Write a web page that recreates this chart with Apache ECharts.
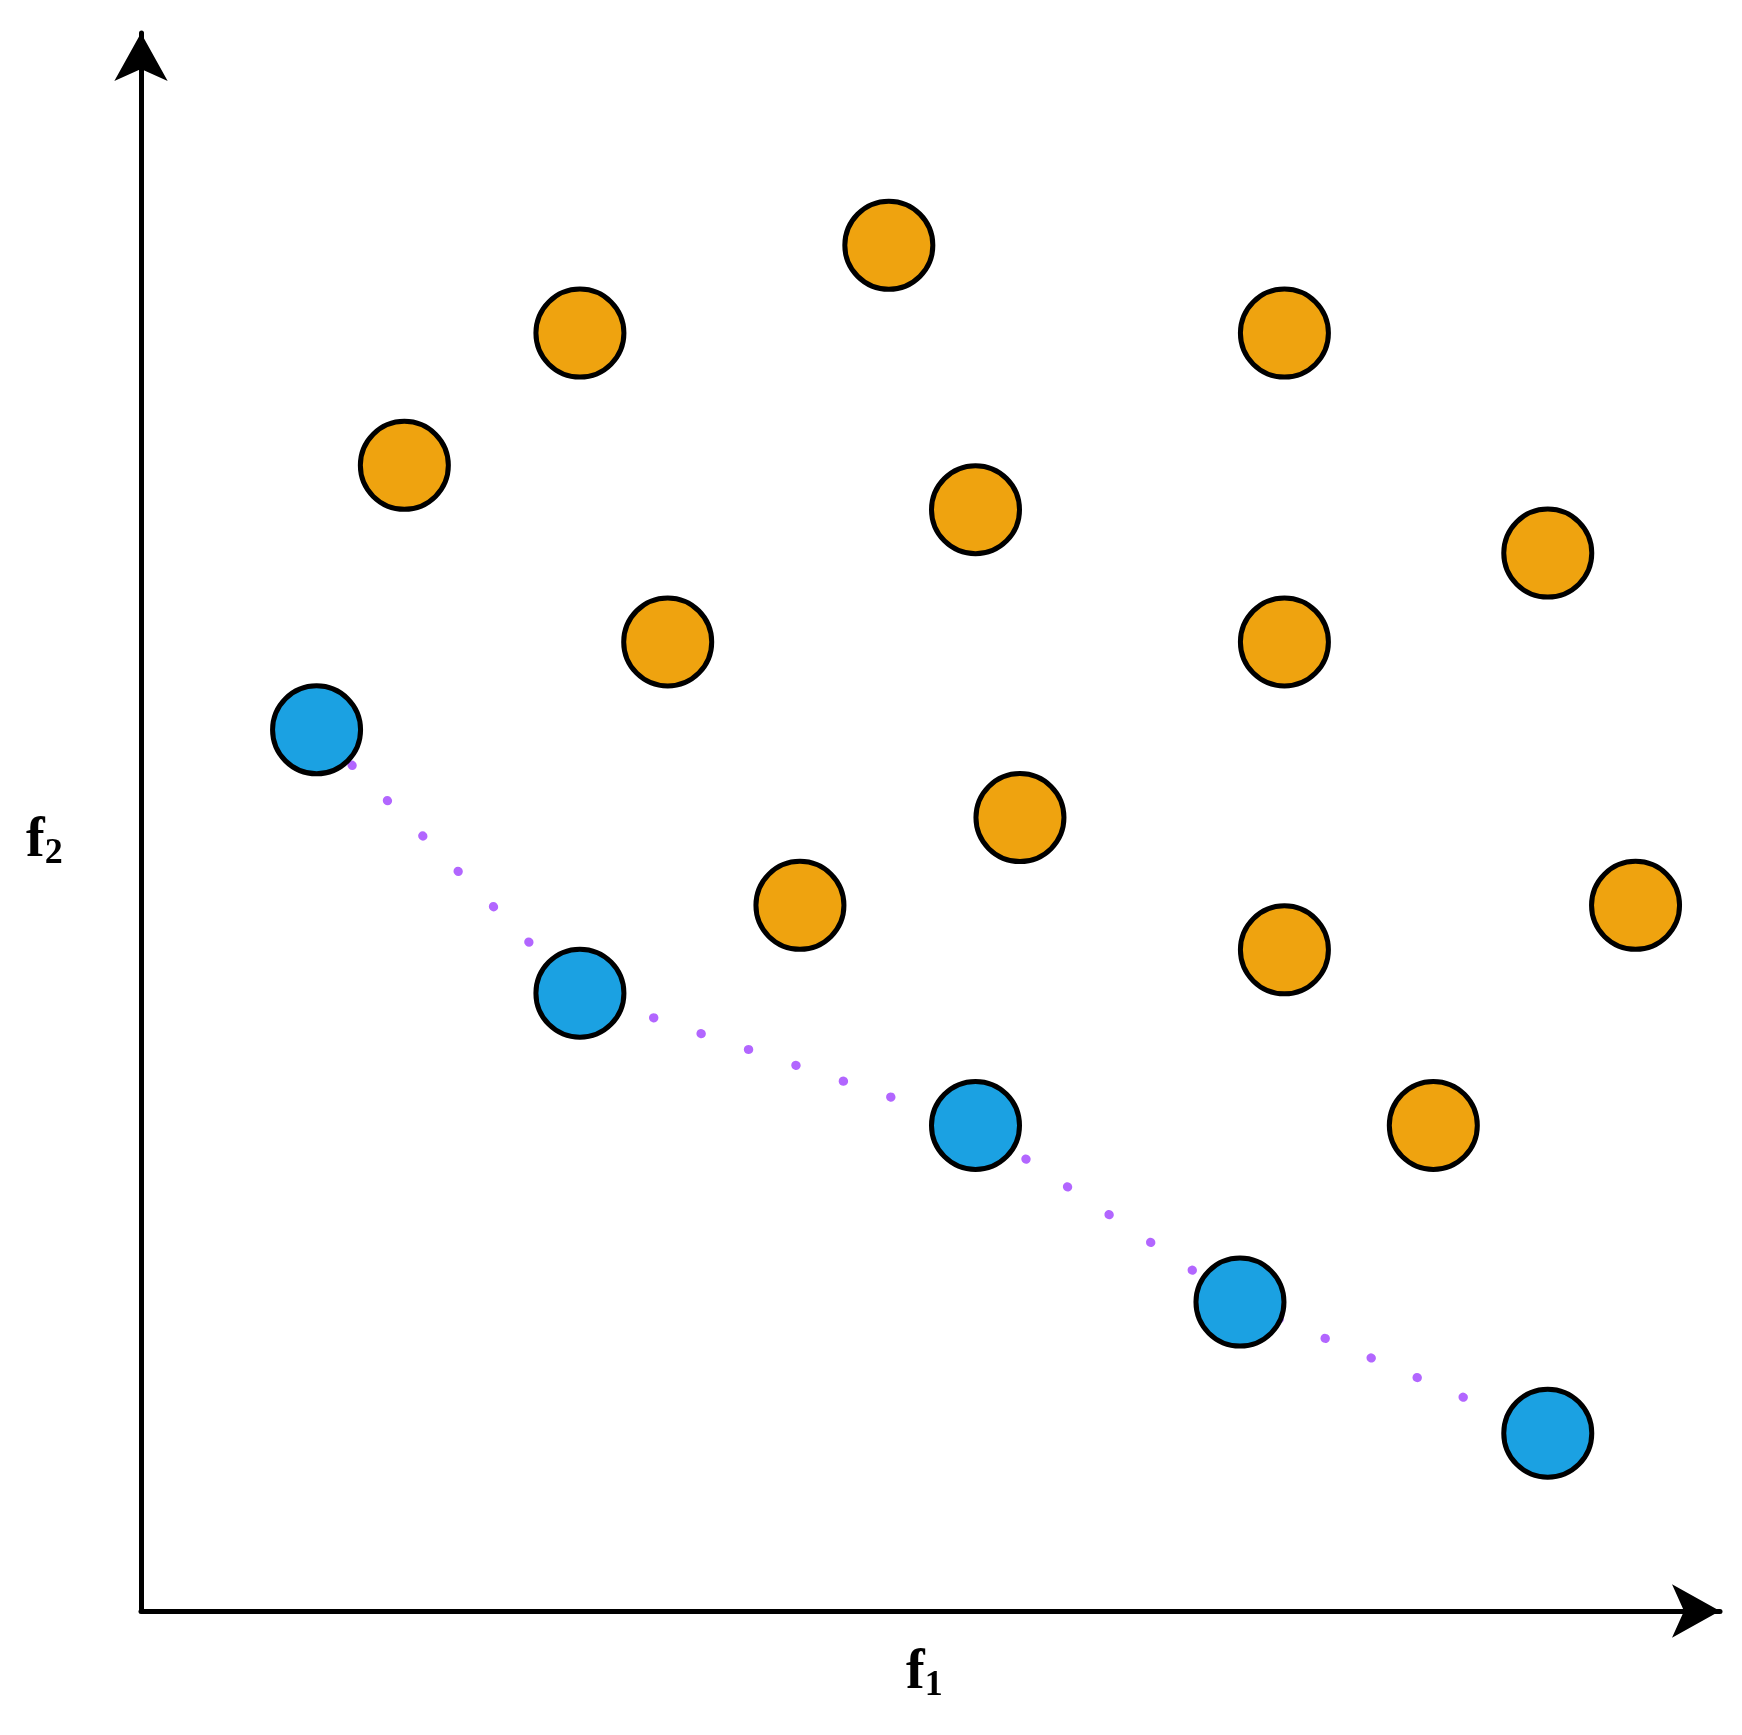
<!DOCTYPE html>
<html><head><meta charset="utf-8">
<script src="https://cdn.jsdelivr.net/npm/echarts@6/dist/echarts.min.js"></script>
<style>html,body{margin:0;padding:0;background:#fff}#c{width:1742px;height:1735px}</style>
</head><body><div id="c"></div>
<script>
const dominated = [[673,1229],[395,1150],[1029,1150],[237,1031],[751,991],[1266,952],[474,872],[1029,872],[791,714],[593,635],[1345,635],[1029,595],[1163,437]];
const pareto = [[158,793],[395,556],[751,437],[989,278],[1266,160]];
const xLabel = 'f', xSub = '1', yLabel = 'f', ySub = '2';
const chart = echarts.init(document.getElementById('c'));
const ax = {
  min: 0, show: true,
  axisLine: {show: true, symbol: ['none','arrow'], symbolSize: [40, 48], lineStyle: {color: '#000', width: 5}},
  axisTick: {show: false}, axisLabel: {show: false}, splitLine: {show: false}
};
const rich = {b:{fontFamily:'Liberation Serif',fontWeight:'bold',fontSize:56,fill:'#000'},s:{fontFamily:'Liberation Serif',fontWeight:'bold',fontSize:36,padding:[24,0,0,0]}};
chart.setOption({
  animation: false,
  grid: {left: 141, right: 22, top: 33, bottom: 124},
  xAxis: Object.assign({type: 'value', max: 1421}, ax),
  yAxis: Object.assign({type: 'value', max: 1420}, ax),
  graphic: [
    {type:'text', left: 906, top: 1646, style:{text:'{b|'+xLabel+'}{s|'+xSub+'}', rich:rich}},
    {type:'text', left: 26, top: 814, style:{text:'{b|'+yLabel+'}{s|'+ySub+'}', rich:rich}}
  ],
  series: [
    {type:'line', data: pareto, symbol:'none', z:1,
     lineStyle:{color:'#B266FF', width:9, type:[0.5,49.5], cap:'round'}},
    {type:'scatter', data: dominated, symbolSize: 88, z:3,
     itemStyle:{color:'#EFA30F', borderColor:'#000', borderWidth:5, opacity:1}},
    {type:'scatter', data: pareto, symbolSize: 88, z:3,
     itemStyle:{color:'#1BA1E2', borderColor:'#000', borderWidth:5, opacity:1}}
  ]
});
</script></body></html>
